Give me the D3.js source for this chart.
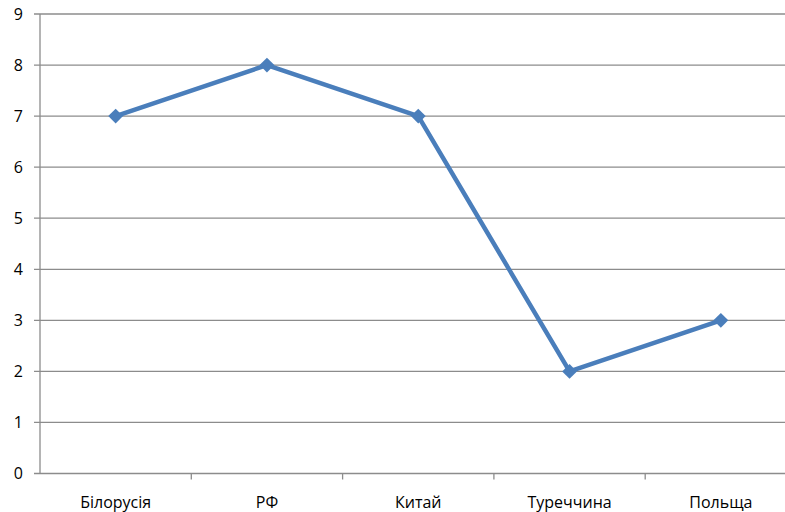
<!DOCTYPE html>
<html>
<head>
<meta charset="utf-8">
<script src="https://cdnjs.cloudflare.com/ajax/libs/d3/7.8.5/d3.min.js"></script>
<style>
    body { margin: 0; background: #fff; }
    svg { display: block; font-family: "Open Sans", "Noto Sans", sans-serif; }
</style>
</head>
<body>
<div id="chart"></div>
<script>

// Data
var countries = ["Білорусія", "РФ", "Китай", "Туреччина", "Польща"];
var values = [7, 8, 7, 2, 3];
var yTicks = [0, 1, 2, 3, 4, 5, 6, 7, 8, 9];


// SVG drawing area
var width = 785,
    height = 512;

var svg = d3.select("#chart").append("svg")
    .attr("width", width)
    .attr("height", height);

// plot area runs past the right edge of the picture
var plotLeft = 40,
    plotTop = 14,
    plotBottom = 473.5,
    plotRight = plotLeft + 5 * 151.3;


// Scales
var x = d3.scaleBand()
    .domain(countries)
    .range([plotLeft, plotRight]);

var y = d3.scaleLinear()
    .domain([0, 9])
    .range([plotBottom, plotTop]);


// Gridlines
svg.selectAll(".grid")
    .data(yTicks)
    .enter().append("line")
    .attr("class", "grid")
    .attr("x1", plotLeft - 6)
    .attr("x2", plotRight)
    .attr("y1", function(d) { return y(d); })
    .attr("y2", function(d) { return y(d); })
    .attr("stroke", "#8c8c8c")
    .attr("stroke-width", 1.3);

// Y axis line
svg.append("line")
    .attr("x1", plotLeft).attr("x2", plotLeft)
    .attr("y1", y(9)).attr("y2", y(0))
    .attr("stroke", "#8c8c8c")
    .attr("stroke-width", 1.3);

// Y labels
svg.selectAll(".ylab")
    .data(yTicks)
    .enter().append("text")
    .attr("class", "ylab")
    .attr("x", 23)
    .attr("y", function(d) { return y(d); })
    .attr("dy", "0.35em")
    .attr("text-anchor", "end")
    .style("font-size", "16px")
    .style("fill", "#000")
    .text(function(d) { return d; });

// X tick marks at category boundaries
var bounds = countries.map(function(d) { return x(d) + x.bandwidth(); });
svg.selectAll(".xtick")
    .data(bounds)
    .enter().append("line")
    .attr("class", "xtick")
    .attr("x1", function(d) { return d; })
    .attr("x2", function(d) { return d; })
    .attr("y1", plotBottom)
    .attr("y2", plotBottom + 6)
    .attr("stroke", "#8c8c8c")
    .attr("stroke-width", 1.3);

// X labels
svg.selectAll(".xlab")
    .data(countries)
    .enter().append("text")
    .attr("class", "xlab")
    .attr("x", function(d) { return x(d) + x.bandwidth() / 2; })
    .attr("y", 508)
    .attr("text-anchor", "middle")
    .style("font-size", "16px")
    .style("fill", "#000")
    .text(function(d) { return d; });


// Line
var line = d3.line()
    .x(function(d, i) { return x(countries[i]) + x.bandwidth() / 2; })
    .y(function(d) { return y(d); });

svg.append("path")
    .datum(values)
    .attr("d", line)
    .attr("fill", "none")
    .attr("stroke", "#4a7ebb")
    .attr("stroke-width", 4.5)
    .attr("stroke-linejoin", "round");

// Diamond markers
var diamond = d3.symbol().type(d3.symbolDiamond2).size(140);

svg.selectAll(".marker")
    .data(values)
    .enter().append("path")
    .attr("class", "marker")
    .attr("transform", function(d, i) {
        return "translate(" + (x(countries[i]) + x.bandwidth() / 2) + "," + y(d) + ")";
    })
    .attr("d", diamond)
    .attr("fill", "#4a7ebb");

</script>
</body>
</html>
